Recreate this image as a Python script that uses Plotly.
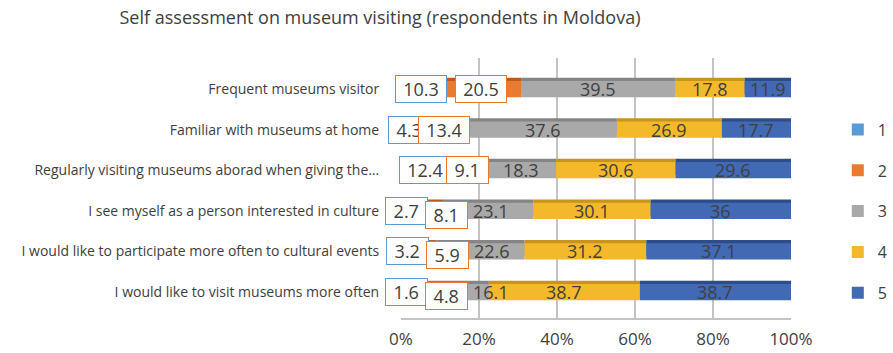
import plotly.graph_objects as go

categories = [
    "Frequent museums visitor",
    "Familiar with museums at home",
    "Regularly visiting museums aborad when giving the…",
    "I see myself as a person interested in culture",
    "I would like to participate more often to cultural events",
    "I would like to visit museums more often",
]
series_names = ["1", "2", "3", "4", "5"]
s1 = [10.3, 4.3, 12.4, 2.7, 3.2, 1.6]
s2 = [20.5, 13.4, 9.1, 8.1, 5.9, 4.8]
s3 = [39.5, 37.6, 18.3, 23.1, 22.6, 16.1]
s4 = [17.8, 26.9, 30.6, 30.1, 31.2, 38.7]
s5 = [11.9, 17.7, 29.6, 36, 37.1, 38.7]
x_ticks = [0, 20, 40, 60, 80, 100]
x_tick_labels = ["0%", "20%", "40%", "60%", "80%", "100%"]

series = [s1, s2, s3, s4, s5]
colors = ["#5B9BD5", "#E97A30", "#A9A9A9", "#F4B92B", "#4169B4"]
dark = ["#3F78AE", "#B95A1E", "#858585", "#C8941C", "#2C4C8A"]
FONT = "Open Sans"
TXT = "#404040"
LBL = 18

n = len(categories)
ypos = list(range(n))
totals = [sum(s[i] for s in series) for i in range(n)]
shares = [[s[i] / totals[i] * 100 for i in range(n)] for s in series]
bases = []
for k in range(len(series)):
    bases.append([sum(shares[j][i] for j in range(k)) for i in range(n)])

W = 0.40
OFF = -0.20
STRIP = 0.08

fig = go.Figure()
# darker top faces (pseudo 3D)
for k in range(len(series)):
    fig.add_trace(go.Bar(
        orientation="h", y=ypos, x=shares[k], base=bases[k],
        width=W, offset=OFF - STRIP, marker=dict(color=dark[k], line=dict(width=0)),
        showlegend=False, hoverinfo="skip"))
# right side face
fig.add_trace(go.Bar(
    orientation="h", y=ypos, x=[1.0] * n, base=[100] * n,
    width=W, offset=OFF - STRIP / 2, marker=dict(color=dark[4], line=dict(width=0)),
    showlegend=False, hoverinfo="skip"))
# front faces
for k in range(len(series)):
    fig.add_trace(go.Bar(
        orientation="h", y=ypos, x=shares[k], base=bases[k], name=series_names[k],
        width=W, offset=OFF, marker=dict(color=colors[k], line=dict(width=0)),
        legendgroup=series_names[k]))

annotations = []
PXU = 3.9  # approx pixels per percent unit
for i in range(n):
    t1 = f"{series[0][i]:g}"
    t2 = f"{series[1][i]:g}"
    w1 = 9.5 * len(t1) + 10
    w2 = 9.5 * len(t2) + 10
    c1 = bases[0][i] + shares[0][i] / 2
    c2 = bases[1][i] + shares[1][i] / 2
    left1 = c1 - w1 / 2 / PXU
    if left1 < -3.6:
        c1 += -3.6 - left1
    right1 = c1 + w1 / 2 / PXU
    left2 = c2 - w2 / 2 / PXU
    ys2 = 0
    if right1 - left2 > 2.5:
        c2 += right1 + 0.5 - left2
        ys2 = -4
    right2 = c2 + w2 / 2 / PXU
    for (c, t, w, col, ys) in [(c1, t1, w1, colors[0], 0), (c2, t2, w2, colors[1], ys2)]:
        annotations.append(dict(
            x=c, y=i, xref="x", yref="y", text=t, showarrow=False, width=w,
            font=dict(family=FONT, size=LBL, color=TXT), bgcolor="white",
            bordercolor=col, borderwidth=1, borderpad=1, yshift=ys))
    for k in range(2, 5):
        t = f"{series[k][i]:g}"
        c = bases[k][i] + shares[k][i] / 2
        if k == 2:
            tl = c - 9.5 * len(t) / 2 / PXU
            if tl < right2 + 1.5:
                c += right2 + 1.5 - tl
        annotations.append(dict(
            x=c, y=i, xref="x", yref="y", text=t, showarrow=False,
            font=dict(family=FONT, size=LBL, color=TXT)))

fig.update_layout(
    width=893, height=353,
    margin=dict(l=401, r=102, t=58, b=35, autoexpand=False),
    barmode="overlay",
    plot_bgcolor="white", paper_bgcolor="white",
    font=dict(family=FONT, color=TXT),
    title=dict(
        text="Self assessment on museum visiting (respondents in Moldova)",
        x=380 / 893, y=1 - 18 / 353, xref="container", yref="container",
        xanchor="center", yanchor="middle",
        font=dict(family=FONT, size=18, color=TXT)),
    annotations=annotations,
    xaxis=dict(
        range=[0, 100], tickvals=x_ticks, ticktext=x_tick_labels,
        showgrid=True, gridcolor="#C4C4C4", gridwidth=1.5,
        zeroline=False, showline=True, linecolor="#C4C4C4", linewidth=1.5,
        ticks="outside", ticklen=5, tickcolor="rgba(0,0,0,0)",
        tickfont=dict(family=FONT, size=17, color=TXT), fixedrange=True,
        automargin=False),
    yaxis=dict(
        range=[5.64, -0.764], tickvals=ypos, ticktext=categories,
        showgrid=False, zeroline=False,
        ticks="outside", ticklen=18, tickcolor="rgba(0,0,0,0)",
        tickfont=dict(family=FONT, size=14, color=TXT), fixedrange=True,
        automargin=False),
    legend=dict(
        x=1.12, y=0.79, xanchor="left", yanchor="top", traceorder="grouped",
        font=dict(family=FONT, size=16, color=TXT), tracegroupgap=17,
        bgcolor="rgba(0,0,0,0)"),
    showlegend=True,
)

fig.write_html("out.html")
